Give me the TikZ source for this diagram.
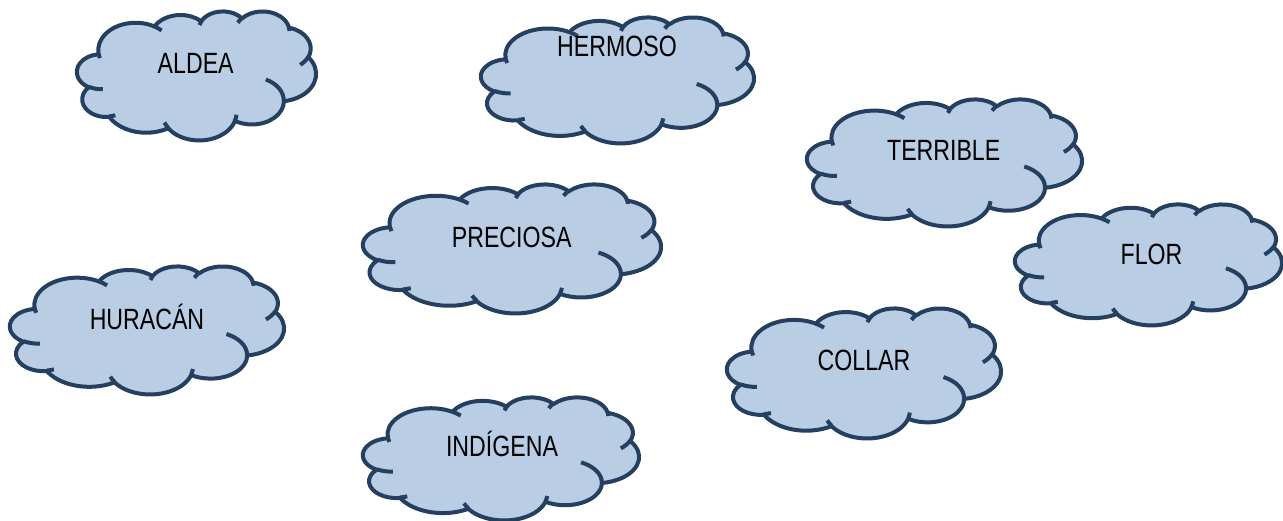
\documentclass[tikz,border=0pt]{standalone}
\usepackage{fontspec}
\setmainfont{Liberation Sans}[FakeStretch=0.79]
\definecolor{cloudblue}{HTML}{B9CDE5}
\definecolor{cloudline}{HTML}{243F60}
\tikzset{
  puffline/.style = {draw = cloudline, line width = 4pt, line join = round},
  word/.style = {anchor = base, inner sep = 0pt, font = \fontsize{29.3}{35}\selectfont}
}
% one puff: radii, then start and sweep as visual angles
\newcommand\puffarc[4]{arc [x radius = #1, y radius = #2,
  start angle = {atan2(#1*sin(#3), #2*cos(#3))},
  delta angle = {mod(atan2(#1*sin(#3+#4), #2*cos(#3+#4)) - atan2(#1*sin(#3), #2*cos(#3)) + 720, 360)}]}
% cloud in a 100 x 100 box: left, top, width, height
\newcommand\puffcloud[4]{%
  \begin{scope}[shift = {(#1, #2)}, xscale = #3/100, yscale = #4/100]
    \filldraw [puffline, fill = cloudblue] (9.028, 33.264)
      \puffarc{15.632}{21.273}{-190.4875}{123.7805}
      \puffarc{12.345}{16.822}{-144.1024}{89.9452}
      \puffarc{10.104}{13.762}{-145.8079}{99.7230}
      \puffarc{11.243}{15.266}{-130.9861}{117.2417}
      \puffarc{12.345}{16.836}{-78.7089}{109.0269}
      \puffarc{15.683}{21.343}{-46.2673}{130.2690}
      \puffarc{13.391}{18.211}{0.6250}{114.0333}
      \puffarc{15.630}{21.331}{22.4516}{115.1726}
      \puffarc{17.870}{24.405}{66.2426}{75.7110}
      \puffarc{10.093}{13.699}{-274.9421}{146.7356}
      \puffarc{10.058}{13.762}{-246.8285}{152.5189}
      -- cycle;
    \draw [puffline]
      (10.863, 60.595) \puffarc{10.058}{13.762}{86.7420}{26.4295}
      (16.037, 80.785) \puffarc{10.093}{13.699}{73.6105}{11.4475}
      (38.144, 90.486) \puffarc{15.630}{21.331}{137.6242}{14.0811}
      (66.729, 80.442) \puffarc{15.630}{21.331}{6.4533}{15.9984}
      (79.002, 53.134) \puffarc{13.391}{18.211}{-70.2924}{70.9174}
      (96.755, 35.542) \puffarc{12.345}{16.836}{30.3180}{27.7515}
      (88.713, 12.560) \puffarc{11.243}{15.266}{-13.7443}{14.8589}
      (67.310, 9.148) \puffarc{11.243}{15.266}{-149.1815}{18.1954}
      (51.252, 10.926) \puffarc{10.104}{13.762}{-163.4943}{17.6864}
      (32.407, 12.019) \puffarc{15.632}{21.273}{-66.7070}{12.3194}
      (9.553, 36.549) \puffarc{15.632}{21.273}{157.6544}{11.8582};
  \end{scope}}
\begin{document}
\begin{tikzpicture}[x = 1pt, y = -1pt]
  \useasboundingbox (0, 0) rectangle (1283, 521);
  % clouds
  \puffcloud{77}{11}{239}{129}
  \puffcloud{481}{17}{273}{126}
  \puffcloud{807}{99}{275}{127}
  \puffcloud{363}{184}{298}{129}
  \puffcloud{1015}{204}{267}{121}
  \puffcloud{10}{266}{274}{128}
  \puffcloud{727}{308}{274}{130}
  \puffcloud{363}{397}{276}{123}
  % words
  \node [word] (aldea) at (195.7, 73.3) {ALDEA};
  \node [word] (hermoso) at (617, 56.7) {HERMOSO};
  \node [word] (terrible) at (943.7, 160.7) {TERRIBLE};
  \node [word] (preciosa) at (511.7, 247.7) {PRECIOSA};
  \node [word] (flor) at (1151.5, 265) {FLOR};
  \node [word] (huracan) at (147, 329.7) {HURACÁN};
  \node [word] (collar) at (864, 370.7) {COLLAR};
  \node [word] (indigena) at (502, 456.7) {INDÍGENA};
\end{tikzpicture}
\end{document}
